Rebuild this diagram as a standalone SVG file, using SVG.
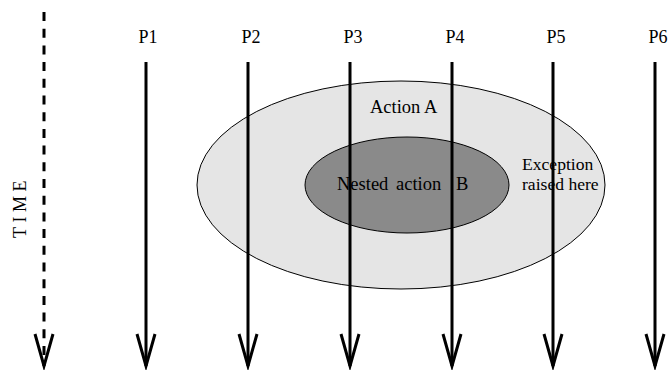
<svg xmlns="http://www.w3.org/2000/svg" width="672" height="372" viewBox="0 0 672 372">
<defs>
<style>
text{font-family:"Liberation Serif","Times New Roman",serif;fill:#000}
.p{font-size:18px;text-anchor:middle}
.lbl{font-size:18.5px}
.proc{stroke:#000;stroke-width:3;fill:none}
.time{stroke-dasharray:9 7.7}
</style>
<marker id="arr" markerUnits="userSpaceOnUse" viewBox="-40 -14 44 28" refX="0" refY="0" markerWidth="44" markerHeight="28" orient="auto">
<path d="M-32,-9 L0,0 L-32,9" fill="none" stroke="#000" stroke-width="3" stroke-linejoin="miter"/>
</marker>
</defs>
<rect width="672" height="372" fill="#fff"/>
<g id="action-a">
<ellipse cx="401" cy="185" rx="204" ry="104" fill="#e5e5e5" stroke="#000" stroke-width="1"/>
<text class="lbl" x="370" y="113">Action A</text>
</g>
<g id="action-b">
<ellipse cx="407" cy="185" rx="102" ry="48" fill="#8a8a8a" stroke="#000" stroke-width="1"/>
</g>
<g id="connectors">
<line id="time-axis" class="proc time" x1="44" y1="12" x2="44" y2="366" marker-end="url(#arr)"/>
<line id="p1-line" class="proc" x1="146" y1="62" x2="146" y2="366" marker-end="url(#arr)"/>
<line id="p2-line" class="proc" x1="248" y1="62" x2="248" y2="366" marker-end="url(#arr)"/>
<line id="p3-line" class="proc" x1="350" y1="62" x2="350" y2="366" marker-end="url(#arr)"/>
<line id="p4-line" class="proc" x1="452" y1="62" x2="452" y2="366" marker-end="url(#arr)"/>
<line id="p5-line" class="proc" x1="553" y1="62" x2="553" y2="366" marker-end="url(#arr)"/>
<line id="p6-line" class="proc" x1="655" y1="62" x2="655" y2="366" marker-end="url(#arr)"/>
</g>
<g id="time-label">
<text x="0" y="0" font-size="18" letter-spacing="4.5" text-anchor="middle" transform="translate(26,207) rotate(-90)">TIME</text>
</g>
<g id="process-labels">
<text class="p" x="148" y="43">P1</text>
<text class="p" x="251" y="43">P2</text>
<text class="p" x="353" y="43">P3</text>
<text class="p" x="455" y="43">P4</text>
<text class="p" x="556" y="43">P5</text>
<text class="p" x="658" y="43">P6</text>
</g>
<g id="action-b-label">
<text class="lbl" x="337" y="190"><tspan x="337">Nested</tspan><tspan x="396">action</tspan><tspan x="456">B</tspan></text>
</g>
<g id="exception-label">
<text font-size="17.6" x="522" y="170">Exception</text>
<text font-size="17.6" x="522" y="190">raised here</text>
</g>
</svg>
